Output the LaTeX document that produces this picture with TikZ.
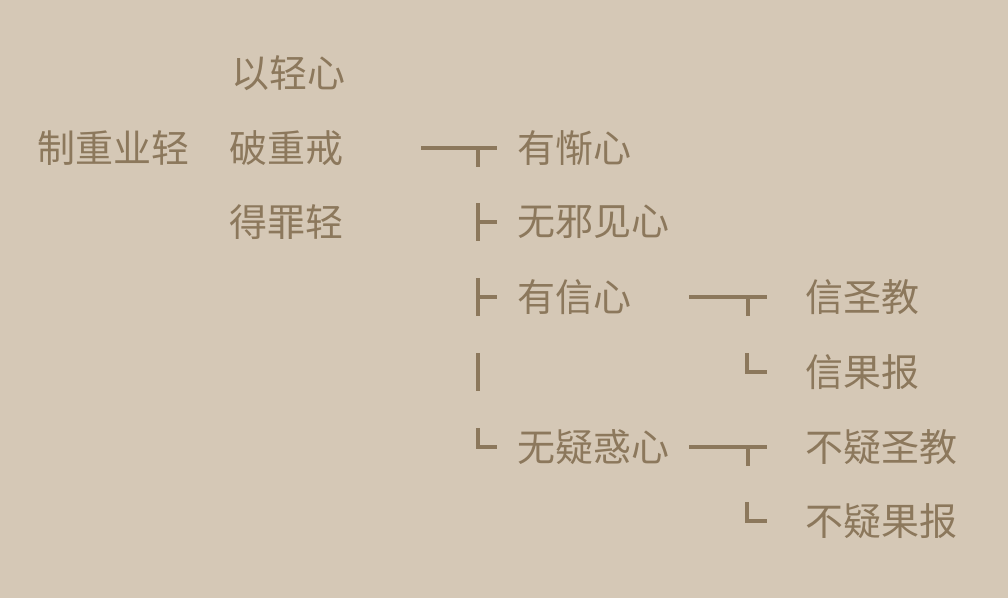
\documentclass[tikz,border=0pt]{standalone}
\usepackage{fontspec}
\newfontfamily\cjk{Noto Sans CJK SC}
\usetikzlibrary{calc}
\definecolor{bg}{RGB}{213,200,182}
\definecolor{fg}{RGB}{140,120,92}

\begin{document}
\begin{tikzpicture}[x=1pt,y=-1pt,
    txt/.style={anchor=west,inner sep=0pt,text=fg,font=\cjk\fontsize{38}{38}\selectfont},
    brk/.style={draw=fg,line width=3.2pt}]
    \useasboundingbox[fill=bg](0,0)rectangle(1008,598);
    % root and its three sayings
    \node[txt](root) at (37,148){制重业轻};
    \node[txt](a1) at (231,73){以轻心};
    \node[txt](a2) at (229,148){破重戒};
    \node[txt](a3) at (229,222){得罪轻};
    % second column
    \node[txt](b1) at (517,148){有惭心};
    \node[txt](b2) at (517,222){无邪见心};
    \node[txt](b3) at (517,297){有信心};
    \node[txt](b4) at (517,447){无疑惑心};
    % third column
    \node[txt](c1) at (805,297){信圣教};
    \node[txt](c2) at (805,372){信果报};
    \node[txt](c3) at (805,447){不疑圣教};
    \node[txt](c4) at (805,521){不疑果报};
    % brackets before the second column
    \draw[brk]($(b1.west)+(-96,0)$)--++(76,0) ($(b1.west)+(-39,0)$)--++(0,19);
    \draw[brk]($(b2.west)+(-39,-19)$)--++(0,38) ($(b2.west)+(-39,0)$)--++(19,0);
    \draw[brk]($(b3.west)+(-39,-19)$)--++(0,38) ($(b3.west)+(-39,0)$)--++(19,0);
    \draw[brk]($(b3.west)!.5!(b4.west)+(-39,-19)$)--++(0,38);
    \draw[brk]($(b4.west)+(-39,-19)$)|-++(19,19);
    % brackets before the third column
    \draw[brk]($(c1.west)+(-116,0)$)--++(78,0) ($(c1.west)+(-57,0)$)--++(0,19);
    \draw[brk]($(c2.west)+(-58,-19)$)|-++(20,19);
    \draw[brk]($(c3.west)+(-116,0)$)--++(78,0) ($(c3.west)+(-57,0)$)--++(0,19);
    \draw[brk]($(c4.west)+(-58,-19)$)|-++(20,19);
\end{tikzpicture}
\end{document}
